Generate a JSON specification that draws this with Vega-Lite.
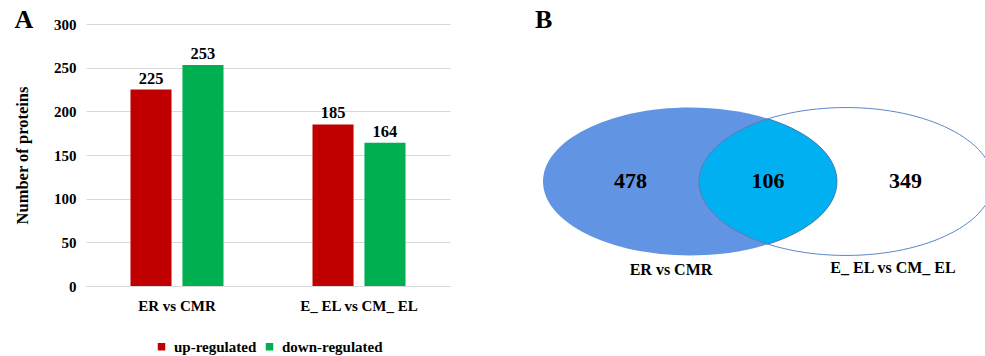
{
  "$schema": "https://vega.github.io/schema/vega-lite/v6.json",
  "padding": {"left": 14, "top": 7, "right": 0, "bottom": 0},
  "config": {
    "view": {"stroke": null},
    "font": "Liberation Serif",
    "title": {"font": "Liberation Serif", "fontWeight": "bold", "fontSize": 26, "color": "#000000"},
    "legend": {"layout": {"bottom": {"anchor": "middle"}}}
  },
  "datasets": {
    "bars": [
      {"comparison": "ER vs CMR", "regulation": "up-regulated", "proteins": 225},
      {"comparison": "ER vs CMR", "regulation": "down-regulated", "proteins": 253},
      {"comparison": "E_ EL vs CM_ EL", "regulation": "up-regulated", "proteins": 185},
      {"comparison": "E_ EL vs CM_ EL", "regulation": "down-regulated", "proteins": 164}
    ],
    "sets": [
      {"set": "ER vs CMR"},
      {"set": "E_ EL vs CM_ EL"}
    ],
    "regions": [
      {"region": "ER vs CMR only", "count": 478},
      {"region": "both", "count": 106},
      {"region": "E_ EL vs CM_ EL only", "count": 349}
    ]
  },
  "resolve": {"scale": {"color": "independent"}, "legend": {"color": "independent"}},
  "spacing": 85,
  "hconcat": [
    {
      "title": {"text": "A", "anchor": "start", "frame": "bounds", "offset": -16},
      "width": 364,
      "height": 262,
      "data": {"name": "bars"},
      "encoding": {
        "x": {
          "field": "comparison", "type": "nominal",
          "sort": ["ER vs CMR", "E_ EL vs CM_ EL"],
          "scale": {"paddingInner": 0.489, "paddingOuter": 0.2445},
          "axis": {
            "title": null, "labelAngle": 0, "ticks": false,
            "domainColor": "#d9d9d9", "labelPadding": 12,
            "labelFont": "Liberation Serif", "labelFontSize": 15, "labelFontWeight": "bold", "labelColor": "#000000"
          }
        },
        "xOffset": {
          "field": "regulation", "type": "nominal",
          "sort": ["up-regulated", "down-regulated"],
          "scale": {"paddingInner": 0.21, "paddingOuter": 0}
        },
        "y": {
          "field": "proteins", "type": "quantitative",
          "scale": {"domain": [0, 300]},
          "axis": {
            "title": "Number of proteins", "values": [0, 50, 100, 150, 200, 250, 300],
            "domain": false, "ticks": false, "gridColor": "#d9d9d9",
            "labelPadding": 10, "labelFont": "Liberation Serif", "labelFontSize": 15, "labelFontWeight": "bold", "labelColor": "#000000",
            "titleFont": "Liberation Serif", "titleFontSize": 16.5, "titleFontWeight": "bold", "titleColor": "#000000", "titlePadding": 23
          }
        }
      },
      "layer": [
        {
          "mark": {"type": "bar"},
          "encoding": {
            "color": {
              "field": "regulation", "type": "nominal",
              "scale": {"domain": ["up-regulated", "down-regulated"], "range": ["#C00000", "#00B050"]},
              "legend": {
                "orient": "bottom", "direction": "horizontal", "title": null,
                "symbolType": "square", "symbolSize": 56, "symbolStrokeWidth": 0,
                "labelFont": "Liberation Serif", "labelFontSize": 15, "labelFontWeight": "bold", "labelColor": "#000000",
                "labelOffset": 5, "columnPadding": 5, "offset": 26
              }
            }
          }
        },
        {
          "mark": {"type": "text", "baseline": "alphabetic", "dy": -6, "font": "Liberation Serif", "fontSize": 16.5, "fontWeight": "bold", "color": "#000000"},
          "encoding": {"text": {"field": "proteins", "type": "quantitative"}}
        }
      ]
    },
    {
      "title": {"text": "B", "anchor": "start", "frame": "group", "dx": -16, "offset": -9},
      "width": 434,
      "height": 315,
      "resolve": {"scale": {"x": "independent"}},
      "layer": [
        {
          "data": {"name": "sets"},
          "transform": [{"filter": "datum.set === 'ER vs CMR'"}],
          "mark": {
            "type": "point", "filled": true, "opacity": 1, "size": 86436,
            "shape": "M -1 0 C -1 -0.2778 -0.5523 -0.503 0 -0.503 C 0.5523 -0.503 1 -0.2778 1 0 C 1 0.2778 0.5523 0.503 0 0.503 C -0.5523 0.503 -1 0.2778 -1 0 Z",
            "fill": "#6195E3", "strokeWidth": 0
          },
          "encoding": {
            "x": {"field": "set", "type": "nominal", "scale": {"type": "point", "domain": ["ER vs CMR", "E_ EL vs CM_ EL"], "padding": 0.891}, "axis": null}
          }
        },
        {
          "data": {"name": "regions"},
          "transform": [{"filter": "datum.region === 'both'"}],
          "mark": {
            "type": "point", "filled": true, "opacity": 1, "size": 86436,
            "shape": "M 0 -0.4264 C 0.2921 -0.3344 0.4694 -0.1733 0.4694 0 C 0.4694 0.1733 0.2921 0.3344 0 0.4264 C -0.2921 0.3344 -0.4694 0.1733 -0.4694 0 C -0.4694 -0.1733 -0.2921 -0.3344 0 -0.4264 Z",
            "fill": "#00B0F0", "stroke": "#4A6FA5", "strokeWidth": 0.8
          },
          "encoding": {
            "x": {"field": "region", "type": "nominal", "scale": {"type": "point", "domain": ["both"]}, "axis": null}
          }
        },
        {
          "data": {"name": "sets"},
          "transform": [{"filter": "datum.set === 'E_ EL vs CM_ EL'"}],
          "mark": {
            "type": "point", "filled": false, "opacity": 1, "size": 86436,
            "shape": "M -1 0 C -1 -0.2778 -0.5523 -0.503 0 -0.503 C 0.5523 -0.503 1 -0.2778 1 0 C 1 0.2778 0.5523 0.503 0 0.503 C -0.5523 0.503 -1 0.2778 -1 0 Z",
            "stroke": "#5B86C8", "strokeWidth": 1
          },
          "encoding": {
            "x": {"field": "set", "type": "nominal", "scale": {"type": "point", "domain": ["ER vs CMR", "E_ EL vs CM_ EL"], "padding": 0.891}, "axis": null}
          }
        },
        {
          "data": {"name": "regions"},
          "mark": {"type": "text", "baseline": "alphabetic", "dy": 6, "font": "Liberation Serif", "fontSize": 22, "fontWeight": "bold", "color": "#000000"},
          "encoding": {
            "x": {"field": "region", "type": "nominal", "scale": {"type": "point", "domain": ["ER vs CMR only", "both", "E_ EL vs CM_ EL only"], "padding": 0.578}, "axis": null},
            "text": {"field": "count", "type": "quantitative"}
          }
        },
        {
          "data": {"name": "sets"},
          "transform": [{"filter": "datum.set === 'ER vs CMR'"}],
          "mark": {"type": "text", "baseline": "alphabetic", "dy": 93, "dx": -19, "font": "Liberation Serif", "fontSize": 16, "fontWeight": "bold", "color": "#000000"},
          "encoding": {
            "x": {"field": "set", "type": "nominal", "scale": {"type": "point", "domain": ["ER vs CMR", "E_ EL vs CM_ EL"], "padding": 0.891}, "axis": null},
            "text": {"field": "set", "type": "nominal"}
          }
        },
        {
          "data": {"name": "sets"},
          "transform": [{"filter": "datum.set === 'E_ EL vs CM_ EL'"}],
          "mark": {"type": "text", "baseline": "alphabetic", "dy": 91, "dx": 47, "font": "Liberation Serif", "fontSize": 16, "fontWeight": "bold", "color": "#000000"},
          "encoding": {
            "x": {"field": "set", "type": "nominal", "scale": {"type": "point", "domain": ["ER vs CMR", "E_ EL vs CM_ EL"], "padding": 0.891}, "axis": null},
            "text": {"field": "set", "type": "nominal"}
          }
        }
      ]
    }
  ]
}
